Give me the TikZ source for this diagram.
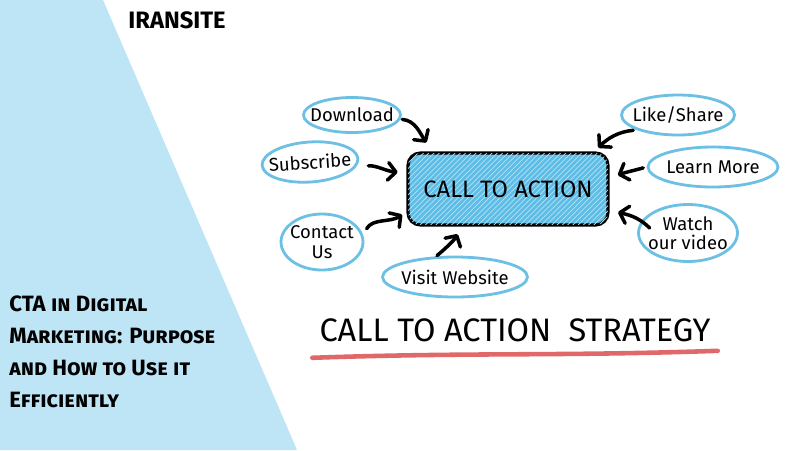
\documentclass[tikz,border=0pt]{standalone}
\usepackage{fontspec}
\setmainfont{Fira Sans}
\usetikzlibrary{arrows.meta, positioning, shapes.geometric, patterns}
\definecolor{ctasky}{HTML}{BDE5F6}
\definecolor{ctablue}{HTML}{5CBDE6}
\definecolor{ctaring}{HTML}{6CC0E3}
\definecolor{ctared}{HTML}{E06868}

\begin{document}
\begin{tikzpicture}[x=0.02cm, y=-0.02cm,
      bubble/.style={ellipse, draw=ctaring, line width=1.6pt, align=center, inner sep=-10pt,
                     font=\fontsize{10.5}{11}\selectfont},
      ctabox/.style={draw=black, line width=1.8pt, rounded corners=7pt, fill=ctablue,
                     minimum width=4cm, minimum height=1.44cm, font=\fontsize{13.5}{15}\selectfont,
                     postaction={pattern=north east lines, pattern color=white!55!ctablue}},
      arr/.style={-{Straight Barb[round, length=4.5pt, width=10pt]}, line width=2pt, line cap=round}]
      \useasboundingbox (0,0) rectangle (800,450);
      % left panel
      \fill[ctasky] (0,0) -- (103,0) -- (297,450) -- (0,450) -- cycle;
      \node[font=\bfseries\fontsize{13.5}{15}\selectfont] (brand) at (177,20) {IRANSITE};
      \node[anchor=north west, align=left, inner sep=0pt,
            font=\bfseries\scshape\fontsize{12.6}{18.2}\selectfont] (title) at (9,295)
        {CTA in Digital\\Marketing: Purpose\\and How to Use it\\Efficiently};

      % centre box and bubbles
      \node[ctabox] (cta) at (508,189) {CALL TO ACTION};
      \node[bubble, minimum width=1.94cm, minimum height=0.7cm] (dl) at (352,115) {Download};
      \node[bubble, minimum width=1.92cm, minimum height=0.8cm, rotate=4] (sub) at (310,162) {Subscribe};
      \node[bubble, minimum width=1.64cm, minimum height=1.12cm] (contact) at (322,242) {Contact\\Us};
      \node[bubble, minimum width=2.9cm, minimum height=0.8cm] (visit) at (455,277) {Visit Website};
      \node[bubble, minimum width=2.26cm, minimum height=0.8cm] (like) at (678,115) {Like/Share};
      \node[bubble, minimum width=2.6cm, minimum height=0.8cm] (learn) at (713,167) {Learn More};
      \node[bubble, minimum width=1.98cm, minimum height=1.14cm] (watch) at (688,233) {Watch\\our video};

      % arrows into the box
      \draw[arr, shorten <=1pt, shorten >=2pt] (dl.-5) to[out=-5, in=125] ([xshift=0.44cm, yshift=0.12cm]cta.north west);
      \draw[arr, shorten <=7pt, shorten >=5pt] (sub.-10) to[out=5, in=175] ([yshift=0.32cm]cta.west);
      \draw[arr, shorten <=4pt, shorten >=3pt] (contact.10) to[out=60, in=-145] ([yshift=0.3cm]cta.south west);
      \draw[arr, shorten >=5pt] ([xshift=-0.36cm]visit.north) to[out=40, in=-120] ([xshift=-0.92cm]cta.south);
      \draw[arr, shorten <=2pt, shorten >=3pt] (like.200) to[out=185, in=45] ([xshift=-0.3cm]cta.north east);
      \draw[arr, shorten <=2pt, shorten >=5pt] (learn.west) to[out=195, in=20] ([yshift=0.22cm]cta.east);
      \draw[arr, shorten >=5pt] ([xshift=0.25cm, yshift=0.1cm]watch.west) to[out=135, in=-15] ([yshift=-0.42cm]cta.east);

      % strategy caption
      \node[font=\fontsize{18.5}{20}\selectfont] (strategy) at (515,330) {CALL TO ACTION\ \ STRATEGY};
      \draw[ctared, line width=2.6pt, line cap=round]
        ([xshift=-0.02cm, yshift=-0.2cm]strategy.south west) to[out=2, in=182] ([xshift=0.02cm, yshift=-0.06cm]strategy.south east);
    \end{tikzpicture}
\end{document}
